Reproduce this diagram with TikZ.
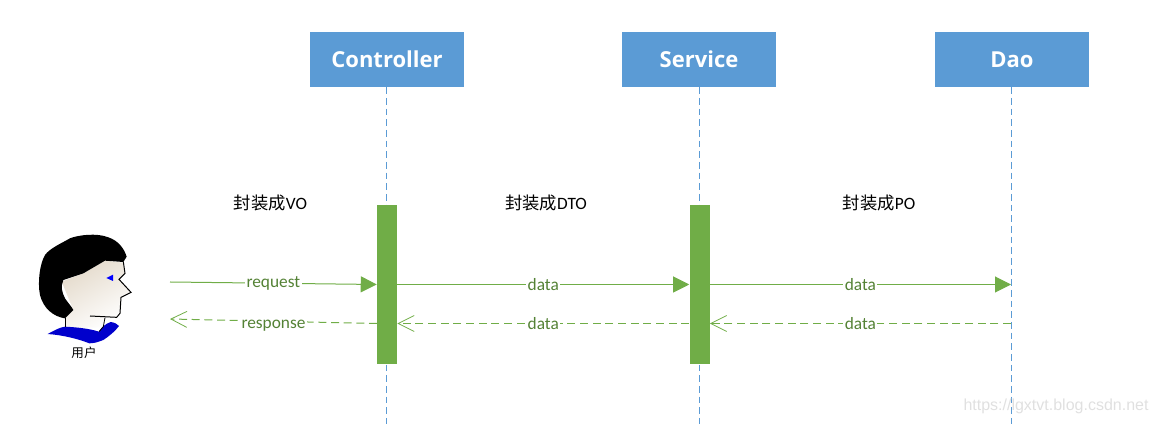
\documentclass[tikz,border=0pt]{standalone}
\usepackage{fontspec}
\setmainfont{Carlito}
\newfontfamily\cjk{Noto Sans CJK SC}
\newfontfamily\headfont{Open Sans}
\newfontfamily\markfont{Liberation Sans}
\usetikzlibrary{arrows.meta,positioning}
\definecolor{boxblue}{HTML}{5B9BD5}
\definecolor{bargreen}{HTML}{70AD47}
\definecolor{textgreen}{HTML}{548235}
\definecolor{facetan}{HTML}{E4DACB}
\tikzset{
  layerbox/.style={fill=boxblue, text=white, font=\headfont\bfseries\fontsize{16.5}{20}\selectfont, minimum width=115.5pt, minimum height=41.25pt, inner sep=0pt},
  lifeline/.style={boxblue, line width=0.75pt, dash pattern=on 5pt off 3pt},
  activebar/.style={fill=bargreen, minimum width=15pt, minimum height=119pt, inner sep=0pt},
  callarrow/.style={bargreen, line width=0.75pt, -{Triangle[length=12pt,width=12pt]}},
  backarrow/.style={bargreen, line width=0.75pt, dash pattern=on 6pt off 3.5pt, -{Straight Barb[length=12pt,width=12pt,line width=0.6pt]}},
  msglabel/.style={fill=white, text=textgreen, inner sep=1pt, font=\fontsize{13}{15}\selectfont},
  wraplabel/.style={font=\fontsize{13}{15}\selectfont, inner sep=0pt}
}
\begin{document}
\begin{tikzpicture}[x=0.75pt, y=0.75pt]
    \useasboundingbox (0,0) rectangle (1156,424);

    % Layer boxes
    \node[layerbox] (controller) at (387,364.5) {Controller};
    \node[layerbox] (service) at (699,364.5) {Service};
    \node[layerbox] (dao) at (1012,364.5) {Dao};

    % Lifelines
    \coordinate (controllerEnd) at (386,0);
    \coordinate (serviceEnd) at (699,0);
    \coordinate (daoEnd) at (1011,0);
    \draw[lifeline] (controller.south -| controllerEnd) -- (controllerEnd);
    \draw[lifeline] (service.south -| serviceEnd) -- (serviceEnd);
    \draw[lifeline] (dao.south -| daoEnd) -- (daoEnd);

    % Activation bars
    \node[activebar] (controllerBar) at (387,139.5) {};
    \node[activebar] (serviceBar) at (699.5,139.5) {};

    % Wrapping labels
    \node[wraplabel] (voLabel) at (270.5,221) {{\cjk 封装成}VO};
    \node[wraplabel] (dtoLabel) at (546,221) {{\cjk 封装成}DTO};
    \node[wraplabel] (poLabel) at (879,221) {{\cjk 封装成}PO};

    % User figure
    \begin{scope}[shift={(20,204)}, x=0.25pt, y=-0.25pt]
        % neck and face
        \shade[left color=facetan, right color=white, shading angle=30]
            (125,185) -- (190,160) -- (255,122) -- (310,128) -- (315,160) -- (297,178)
            -- (333,217) -- (303,232) -- (300,280) -- (290,292) -- (255,293) -- (250,322)
            -- (135,325) -- (135,295) -- (160,270) -- cycle;
        % collar
        \fill[blue!80!black] (83,342) .. controls (105,330) and (120,322) .. (135,320)
            .. controls (170,322) and (205,325) .. (237,335)
            .. controls (245,322) and (255,312) .. (272,306)
            .. controls (285,308) and (292,312) .. (297,318)
            .. controls (285,335) and (265,350) .. (250,360)
            .. controls (235,366) and (222,370) .. (208,370)
            .. controls (170,355) and (125,345) .. (83,342) -- cycle;
        % hair
        \fill[black] (150,55) .. controls (175,45) and (230,38) .. (265,52)
            .. controls (295,62) and (312,85) .. (320,110)
            -- (310,126) -- (255,122) -- (190,160) -- (130,180)
            .. controls (122,200) and (125,215) .. (135,235)
            .. controls (145,250) and (155,260) .. (160,270)
            -- (135,295) .. controls (100,290) and (70,265) .. (60,225)
            .. controls (52,185) and (60,130) .. (75,105)
            .. controls (90,85) and (120,72) .. (150,55) -- cycle;
        % profile line
        \draw[black, line width=0.75pt] (310,125) -- (315,160) -- (297,178) -- (333,217)
            -- (303,232) -- (300,280) -- (290,292) -- (210,288);
        \draw[black, line width=0.6pt] (135,295) -- (135,320);
        \draw[black, line width=0.6pt] (255,293) -- (250,320) -- (237,335);
        % eye
        \fill[blue] (259,174) -- (279,164) -- (279,183) -- cycle;
    \end{scope}
    \node[inner sep=0pt, font=\cjk\fontsize{9.4}{11}\selectfont] (userLabel) at (84,71) {用户};

    % Free ends at the user
    \coordinate (userOut) at (170,142);
    \coordinate (userIn) at (170,105);
    \coordinate (controllerBack) at (377,100.5);

    % Calls
    \draw[callarrow] (userOut) -- node[msglabel] {request} (controllerBar.west);
    \draw[callarrow] (controllerBar.east) -- node[msglabel] {data} (serviceBar.west);
    \draw[callarrow] (serviceBar.east) -- node[msglabel] {data} (serviceBar.east -| daoEnd);

    % Returns
    \draw[backarrow] (controllerBack) -- node[msglabel, yshift=-3pt] {response} (userIn);
    \draw[backarrow] (serviceBar.west |- controllerBack) -- node[msglabel] {data} (controllerBar.east |- controllerBack);
    \draw[backarrow] (daoEnd |- controllerBack) -- node[msglabel] {data} (serviceBar.east |- controllerBack);

    % Watermark
    \node[text=black!12, inner sep=0pt, font=\markfont\fontsize{12}{14}\selectfont] (watermark) at (1056,18) {https://lgxtvt.blog.csdn.net};
\end{tikzpicture}
\end{document}
